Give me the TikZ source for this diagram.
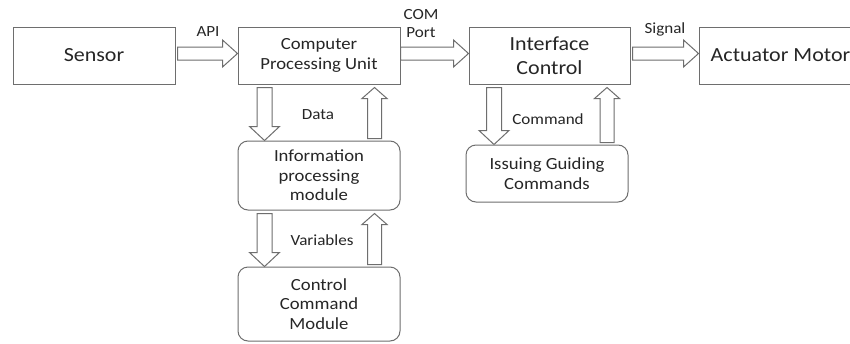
\documentclass[tikz,border=0pt]{standalone}
\usepackage{fontspec}
\setmainfont{Carlito}[FakeStretch=1.1]
\usetikzlibrary{calc}
\definecolor{ln}{HTML}{6E6E6E}
\definecolor{tx}{HTML}{262626}
\tikzset{
  box/.style={draw=ln, line width=1pt, text=tx, align=center, inner sep=0pt},
  rbox/.style={box, rounded corners=10pt},
  big/.style={font=\fontsize{20}{24.5}\selectfont},
  mid/.style={font=\fontsize{17}{19.5}\selectfont},
  lbl/.style={text=tx, font=\fontsize{15.5}{18}\selectfont, align=center, inner sep=0pt},
  blk/.style={draw=ln, line width=1pt, fill=white, line join=miter},
}
% horizontal block arrow: from, to, start gap
\newcommand\harr[3]{%
  \draw[blk] let \p1=(#1.east), \p2=(#2.west) in
    (\x1+#3pt,\y1+8.5pt) -- (\x2-15pt,\y1+8.5pt) -- (\x2-15pt,\y1+15.5pt) --
    (\x2,\y1+2pt) -- (\x2-15pt,\y1-11.5pt) -- (\x2-15pt,\y1-4.5pt) --
    (\x1+#3pt,\y1-4.5pt) -- cycle;}
% down block arrow: from (upper), to (lower), x offset from upper's west
\newcommand\darr[3]{%
  \draw[blk] let \p1=(#1.south west), \p2=(#2.north) in
    (\x1+#3pt-7.5pt,\y1-3pt) -- (\x1+#3pt-7.5pt,\y2+14pt) -- (\x1+#3pt-15pt,\y2+14pt) --
    (\x1+#3pt,\y2) -- (\x1+#3pt+15pt,\y2+14pt) -- (\x1+#3pt+7.5pt,\y2+14pt) --
    (\x1+#3pt+7.5pt,\y1-3pt) -- cycle;}
% up block arrow: from (lower), to (upper), x offset from upper's west
\newcommand\uarr[3]{%
  \draw[blk] let \p1=(#2.south west), \p2=(#1.north) in
    (\x1+#3pt-7pt,\y2+2pt) -- (\x1+#3pt-7pt,\y1-14pt) -- (\x1+#3pt-12.5pt,\y1-14pt) --
    (\x1+#3pt,\y1-3pt) -- (\x1+#3pt+12.5pt,\y1-14pt) -- (\x1+#3pt+7pt,\y1-14pt) --
    (\x1+#3pt+7pt,\y2+2pt) -- cycle;}
\begin{document}
\begin{tikzpicture}[x=1pt,y=-1pt]
  \useasboundingbox[fill=white] (0,0) rectangle (850,343);
  % boxes
  \node[box,big,minimum width=162pt,minimum height=57pt] (sensor) at (94,55.5) {Sensor};
  \node[box,mid,minimum width=162pt,minimum height=57pt] (cpu) at (319,55.5) {Computer\\Processing Unit};
  \node[box,big,minimum width=161pt,minimum height=57pt] (ifc) at (549.5,55.5) {Interface\\Control};
  \node[box,big,minimum width=163pt,minimum height=57pt] (act) at (780.5,55.5) {Actuator Motor};
  \node[rbox,mid,minimum width=162pt,minimum height=69pt] (info) at (319,175.5) {Information\\processing\\module};
  \node[rbox,mid,minimum width=162pt,minimum height=74pt] (ctrl) at (319,304) {Control\\Command\\Module};
  \node[rbox,mid,minimum width=162pt,minimum height=57pt] (iss) at (547,173.5) {Issuing Guiding\\Commands};
  % horizontal arrows
  \harr{sensor}{cpu}{2}
  \harr{cpu}{ifc}{0}
  \harr{ifc}{act}{2}
  % vertical arrows
  \darr{cpu}{info}{27}
  \uarr{info}{cpu}{137}
  \darr{info}{ctrl}{27}
  \uarr{ctrl}{info}{137}
  \darr{ifc}{iss}{25.5}
  \uarr{iss}{ifc}{138.5}
  % labels
  \node[lbl] (lapi) at (208,32) {API};
  \node[lbl] (lcom) at (421,24) {COM\\Port};
  \node[lbl] (lsig) at (665,29) {Signal};
  \node[lbl] (ldata) at (318,115) {Data};
  \node[lbl] (lvar) at (322,240) {Variables};
  \node[lbl] (lcmd) at (548,119) {Command};
\end{tikzpicture}
\end{document}
